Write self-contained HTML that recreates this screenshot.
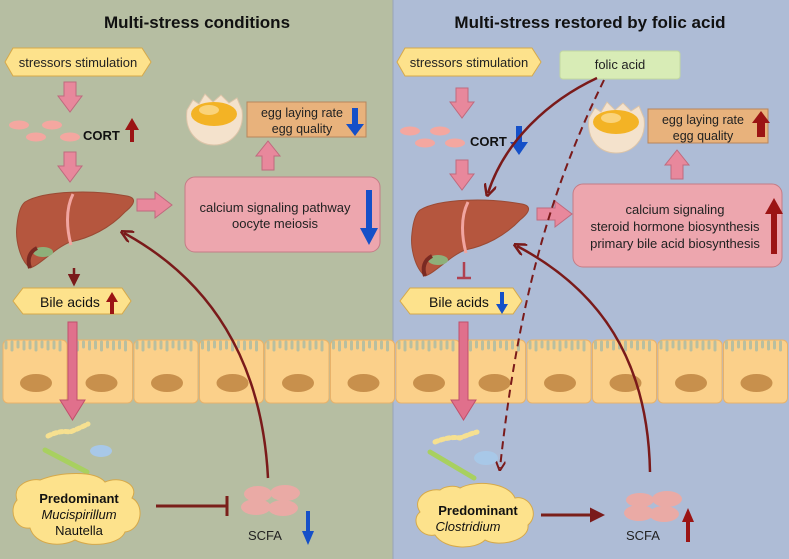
<!DOCTYPE html>
<html><head><meta charset="utf-8">
<style>
html,body{margin:0;padding:0;}
body{width:789px;height:559px;overflow:hidden;}
svg{display:block;font-family:"Liberation Sans",sans-serif;}
</style></head>
<body>
<svg width="789" height="559" viewBox="0 0 789 559" xmlns="http://www.w3.org/2000/svg">
<defs>
  <path id="pd" d="M-6,0 H6 V14 H12 L0,30 L-12,14 H-6 Z" fill="#e8889c" stroke="#bf6a7e" stroke-width="1"/>
  <path id="pr" d="M0,-6 V6 H18 V13 L35,0 L18,-13 V-6 Z" fill="#e8889c" stroke="#bf6a7e" stroke-width="1"/>
  <path id="pu" d="M-6,27 H6 V13 H12 L0,-2 L-12,13 H-6 Z" fill="#e8889c" stroke="#bf6a7e" stroke-width="1"/>
  <g id="cell">
    <rect x="0" y="0" width="64" height="63" rx="5" fill="#fbd08a" stroke="#e8b26a" stroke-width="1"/>
    <path d="M3,2 v6 M9,2 v8 M15,2 v5 M21,2 v7 M27,2 v6 M33,2 v8 M39,2 v5 M45,2 v7 M51,2 v6 M57,2 v8" stroke="#b8bfa0" stroke-width="3" stroke-linecap="round"/>
    <ellipse cx="33" cy="43" rx="16" ry="9" fill="#c8904c"/>
  </g>
  <g id="liver">
    <path d="M10,12 C30,0 80,0 112,6 C122,8 120,14 110,22 C95,38 75,48 55,52 C40,58 25,75 15,78 C5,70 0,50 2,35 C3,25 5,16 10,12 Z" fill="#b5563e" stroke="#9a4a34" stroke-width="1"/>
    <path d="M58,4 C50,20 52,40 56,55" stroke="#f1a5a0" stroke-width="3" fill="none"/>
    <ellipse cx="28" cy="62" rx="10" ry="5" fill="#8eb07a"/>
    <path d="M15,78 C12,70 14,62 22,58" stroke="#7a2a22" stroke-width="4" fill="none"/>
  </g>
  <g id="egg">
    <path d="M2,18 L8,8 L14,12 L20,2 L28,10 L36,3 L44,11 L52,6 L57,18 C60,40 45,53 29,53 C13,53 -1,40 2,18 Z" fill="#f4e2cc" stroke="#dcc4a8"/>
    <ellipse cx="29" cy="22" rx="23" ry="12" fill="#f3b325"/>
    <ellipse cx="24" cy="18" rx="10" ry="5" fill="#fad37a"/>
  </g>
  <marker id="ah" viewBox="0 0 10 10" refX="8" refY="5" markerWidth="5" markerHeight="5" orient="auto"><path d="M0,0 L10,5 L0,10 Z" fill="#7a1a1a"/></marker>
  <marker id="ao" viewBox="0 0 10 10" refX="7" refY="5" markerWidth="5" markerHeight="5" orient="auto"><path d="M0,0 L10,5 L0,10" fill="none" stroke="#7a1a1a" stroke-width="2"/></marker>
</defs>

<rect x="0" y="0" width="393" height="559" fill="#b6bea2"/>
<rect x="393" y="0" width="396" height="559" fill="#aebcd6"/>
<line x1="393" y1="0" x2="393" y2="559" stroke="#98a4b8" stroke-width="1"/>

<text x="197" y="28" font-size="17" font-weight="bold" text-anchor="middle" fill="#111">Multi-stress conditions</text>
<text x="590" y="28" font-size="17" font-weight="bold" text-anchor="middle" fill="#111">Multi-stress restored by folic acid</text>

<!-- intestine -->
<g>
<use href="#cell" x="3" y="340"/><use href="#cell" x="68.5" y="340"/><use href="#cell" x="134" y="340"/><use href="#cell" x="199.5" y="340"/><use href="#cell" x="265" y="340"/><use href="#cell" x="330.5" y="340"/><use href="#cell" x="396" y="340"/><use href="#cell" x="461.5" y="340"/><use href="#cell" x="527" y="340"/><use href="#cell" x="592.5" y="340"/><use href="#cell" x="658" y="340"/><use href="#cell" x="723.5" y="340"/>
</g>

<!-- LEFT -->
<path d="M13,48 H142 L151,62 L142,76 H13 L5,62 Z" fill="#fde28c" stroke="#d6a94a"/>
<text x="78" y="67" font-size="13" text-anchor="middle" fill="#222">stressors stimulation</text>
<use href="#pd" x="70" y="82"/>
<ellipse cx="19" cy="125" rx="10" ry="4.5" fill="#f4a7a0"/><ellipse cx="52" cy="125" rx="10" ry="4.5" fill="#f4a7a0"/>
<ellipse cx="36" cy="137" rx="10" ry="4.5" fill="#f4a7a0"/><ellipse cx="70" cy="137" rx="10" ry="4.5" fill="#f4a7a0"/>
<text x="83" y="140" font-size="13" font-weight="bold" fill="#111">CORT</text>
<path d="M130,142 V130 H125 L132,118 L139,130 H134 V142 Z" fill="#9b1414"/>
<use href="#pd" x="70" y="152"/>
<use href="#liver" x="15" y="190"/>
<use href="#pr" x="137" y="205"/>
<line x1="74" y1="268" x2="74" y2="284" stroke="#7a1a1a" stroke-width="2.5" marker-end="url(#ah)"/>
<path d="M23,288 H122 L131,301 L122,314 H23 L13,301 Z" fill="#fde28c" stroke="#d6a94a"/>
<text x="40" y="307" font-size="14" fill="#111">Bile acids</text>
<path d="M110,314 V302 H106 L112,292 L118,302 H114 V314 Z" fill="#9b1414"/>
<path d="M68,322 H77 V400 H85 L72.5,420 L60,400 H68 Z" fill="#e0708c" stroke="#c0506c"/>
<use href="#egg" x="185" y="92"/>
<rect x="247" y="102" width="119" height="35" fill="#e8b27c" stroke="#b8855c"/>
<text x="302" y="117" font-size="12.5" text-anchor="middle" fill="#222">egg laying rate</text>
<text x="302" y="133" font-size="12.5" text-anchor="middle" fill="#222">egg quality</text>
<path d="M352,108 V124 H346 L355,136 L364,124 H358 V108 Z" fill="#1550c8"/>
<use href="#pu" x="268" y="143"/>
<rect x="185" y="177" width="195" height="75" rx="10" fill="#eda6ae" stroke="#c47c86"/>
<text x="275" y="212" font-size="13" text-anchor="middle" fill="#222">calcium signaling pathway</text>
<text x="275" y="228" font-size="13" text-anchor="middle" fill="#222">oocyte meiosis</text>
<path d="M366,190 V228 H360 L369,245 L378,228 H372 V190 Z" fill="#1550c8"/>
<!-- bacteria left -->
<path d="M48,436 Q60,430 70,432 Q80,428 88,424" stroke="#f6e090" stroke-width="5" stroke-linecap="round" stroke-dasharray="3 3" fill="none"/>
<ellipse cx="101" cy="451" rx="11" ry="6" fill="#a8c8e8"/>
<line x1="45" y1="450" x2="87" y2="472" stroke="#a8d060" stroke-width="5" stroke-linecap="round"/>
<path d="M40,480 C30,478 12,485 17,500 C8,510 15,530 30,528 C35,545 60,548 75,540 C90,548 120,545 125,532 C142,530 145,505 132,498 C140,485 120,475 105,482 C95,470 60,472 40,480 Z" fill="#fde28c" stroke="#d6a94a"/>
<text x="79" y="503" font-size="13" font-weight="bold" text-anchor="middle" fill="#111">Predominant</text>
<text x="79" y="519" font-size="13" font-style="italic" text-anchor="middle" fill="#111">Mucispirillum</text>
<text x="79" y="535" font-size="13" text-anchor="middle" fill="#111">Nautella</text>
<line x1="156" y1="506" x2="226" y2="506" stroke="#7a1f1a" stroke-width="3"/>
<line x1="227" y1="496" x2="227" y2="516" stroke="#7a1f1a" stroke-width="3"/>
<ellipse cx="258" cy="494" rx="14" ry="8" fill="#eaaaa5"/><ellipse cx="285" cy="493" rx="15" ry="8" fill="#eaaaa5"/>
<ellipse cx="256" cy="507" rx="15" ry="8" fill="#eaaaa5"/><ellipse cx="283" cy="508" rx="15" ry="8" fill="#eaaaa5"/>
<text x="248" y="540" font-size="13" fill="#222">SCFA</text>
<path d="M306,511 V531 H302 L308,545 L314,531 H310 V511 Z" fill="#1550c8"/>
<path d="M268,478 C262,360 210,280 124,233" stroke="#7a1a1a" stroke-width="2.5" fill="none" marker-end="url(#ao)"/>

<!-- RIGHT -->
<path d="M405,48 H532 L541,62 L532,76 H405 L397,62 Z" fill="#fde28c" stroke="#d6a94a"/>
<text x="469" y="67" font-size="13" text-anchor="middle" fill="#222">stressors stimulation</text>
<rect x="560" y="51" width="120" height="28" rx="3" fill="#d8ecb6" stroke="#c2d8a0"/>
<text x="620" y="69" font-size="13" text-anchor="middle" fill="#222">folic acid</text>
<use href="#pd" x="462" y="88"/>
<ellipse cx="410" cy="131" rx="10" ry="4.5" fill="#f4a7a0"/><ellipse cx="440" cy="131" rx="10" ry="4.5" fill="#f4a7a0"/>
<ellipse cx="425" cy="143" rx="10" ry="4.5" fill="#f4a7a0"/><ellipse cx="455" cy="143" rx="10" ry="4.5" fill="#f4a7a0"/>
<text x="470" y="146" font-size="13" font-weight="bold" fill="#111">CORT</text>
<path d="M516,126 V142 H510 L519,155 L528,142 H522 V126 Z" fill="#1550c8"/>
<use href="#pd" x="462" y="160"/>
<use href="#liver" x="410" y="198"/>
<use href="#pr" x="537" y="214"/>
<line x1="464" y1="262" x2="464" y2="278" stroke="#b04050" stroke-width="2.5"/>
<line x1="457" y1="278" x2="471" y2="278" stroke="#b04050" stroke-width="2.5"/>
<path d="M410,288 H513 L522,301 L513,314 H410 L400,301 Z" fill="#fde28c" stroke="#d6a94a"/>
<text x="429" y="307" font-size="14" fill="#111">Bile acids</text>
<path d="M500,292 V304 H496 L502,314 L508,304 H504 V292 Z" fill="#1550c8"/>
<path d="M459,322 H468 V400 H476 L463.5,420 L451,400 H459 Z" fill="#e0708c" stroke="#c0506c"/>
<use href="#egg" x="587" y="100"/>
<rect x="648" y="109" width="120" height="34" fill="#e8b27c" stroke="#b8855c"/>
<text x="703" y="124" font-size="12.5" text-anchor="middle" fill="#222">egg laying rate</text>
<text x="703" y="140" font-size="12.5" text-anchor="middle" fill="#222">egg quality</text>
<path d="M757,137 V123 H752 L761,111 L770,123 H765 V137 Z" fill="#9b1414"/>
<use href="#pu" x="677" y="152"/>
<rect x="573" y="184" width="209" height="83" rx="10" fill="#eda6ae" stroke="#c47c86"/>
<text x="675" y="214" font-size="13" text-anchor="middle" fill="#222">calcium signaling</text>
<text x="675" y="231" font-size="13" text-anchor="middle" fill="#222">steroid hormone biosynthesis</text>
<text x="675" y="248" font-size="13" text-anchor="middle" fill="#222">primary bile acid biosynthesis</text>
<path d="M771,254 V214 H765 L774,198 L783,214 H777 V254 Z" fill="#9b1414"/>
<path d="M597,78 C550,100 505,140 488,193" stroke="#7a1a1a" stroke-width="2.5" fill="none" marker-end="url(#ao)"/>
<path d="M604,80 C560,170 520,280 500,468" stroke="#7a1a1a" stroke-width="2" stroke-dasharray="8 5" fill="none" marker-end="url(#ao)"/>
<path d="M650,472 C648,360 600,290 517,246" stroke="#7a1a1a" stroke-width="2.5" fill="none" marker-end="url(#ao)"/>
<!-- bacteria right -->
<path d="M435,442 Q450,436 460,438 Q470,434 477,432" stroke="#f6e090" stroke-width="5" stroke-linecap="round" stroke-dasharray="3 3" fill="none"/>
<ellipse cx="486" cy="458" rx="12" ry="7" fill="#a8c8e8"/>
<line x1="430" y1="452" x2="474" y2="478" stroke="#a8d060" stroke-width="5" stroke-linecap="round"/>
<path d="M440,490 C425,488 412,500 420,512 C410,520 420,538 435,535 C445,550 475,550 485,540 C500,548 530,540 528,525 C540,515 530,495 515,498 C508,482 475,480 460,488 C455,485 445,486 440,490 Z" fill="#fde28c" stroke="#d6a94a"/>
<text x="478" y="515" font-size="13" font-weight="bold" text-anchor="middle" fill="#111">Predominant</text>
<text x="468" y="531" font-size="13" font-style="italic" text-anchor="middle" fill="#111">Clostridium</text>
<line x1="541" y1="515" x2="602" y2="515" stroke="#7a1f1a" stroke-width="3" marker-end="url(#ah)"/>
<ellipse cx="640" cy="500" rx="14" ry="7" fill="#eaaaa5"/><ellipse cx="667" cy="499" rx="15" ry="8" fill="#eaaaa5"/>
<ellipse cx="639" cy="513" rx="15" ry="8" fill="#eaaaa5"/><ellipse cx="664" cy="514" rx="15" ry="8" fill="#eaaaa5"/>
<text x="626" y="540" font-size="13" fill="#222">SCFA</text>
<path d="M686,542 V522 H682 L688,508 L694,522 H690 V542 Z" fill="#9b1414"/>
</svg>
</body></html>
